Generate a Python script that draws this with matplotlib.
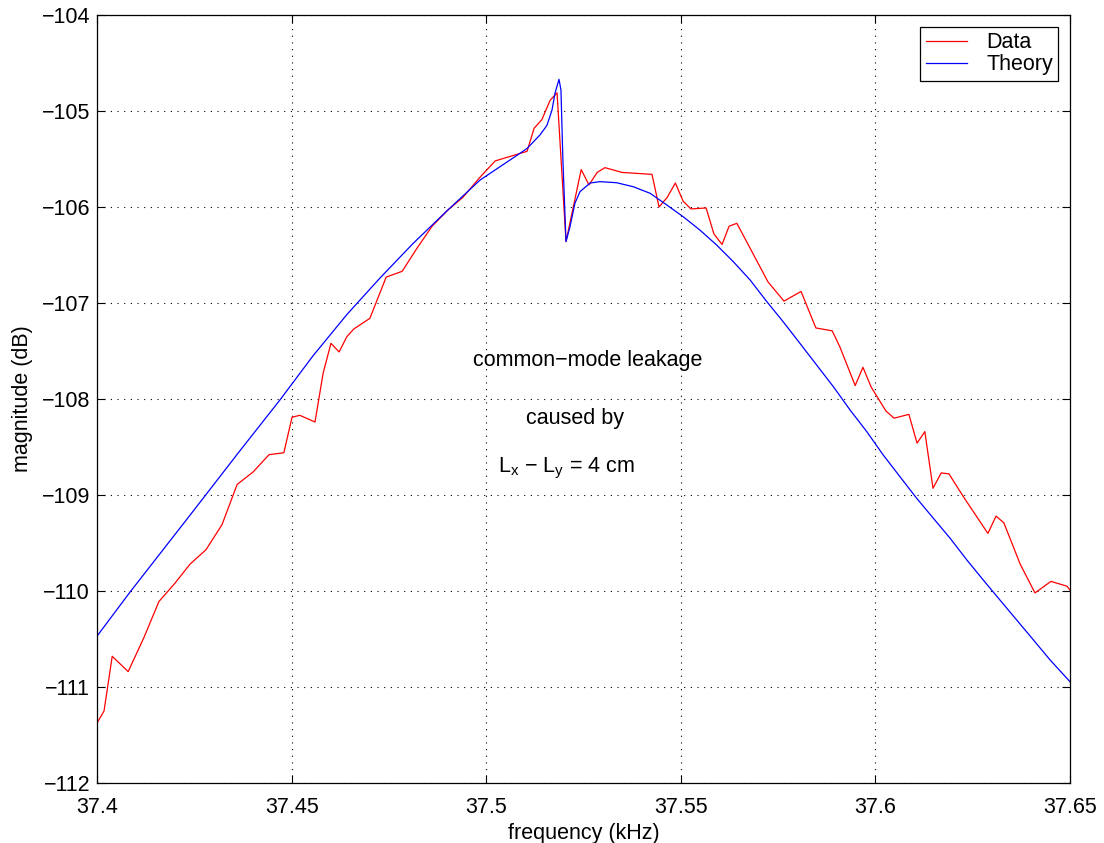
import matplotlib
matplotlib.use("Agg")
import matplotlib.pyplot as plt
from matplotlib.ticker import FixedLocator, FuncFormatter

plt.rcParams["font.family"] = ["Liberation Sans", "DejaVu Sans"]
plt.rcParams["mathtext.fontset"] = "custom"
plt.rcParams["mathtext.rm"] = "Liberation Sans"
plt.rcParams["mathtext.it"] = "Liberation Sans"

# measured response
data_f = [37.4, 37.4018, 37.4039, 37.4080, 37.4121, 37.4159, 37.4200, 37.4239,
          37.4280, 37.4321, 37.4360, 37.4401, 37.4442, 37.4480, 37.4501, 37.4521,
          37.4560, 37.4581, 37.4601, 37.4622, 37.4642, 37.4660, 37.4701, 37.4743,
          37.4784, 37.4822, 37.4861, 37.4902, 37.4940, 37.4984, 37.5023, 37.5105,
          37.5123, 37.5143, 37.5164, 37.5182, 37.5205, 37.5244, 37.5264, 37.5285,
          37.5305, 37.5349, 37.5426, 37.5444, 37.5465, 37.5486, 37.5506, 37.5526,
          37.5565, 37.5585, 37.5606, 37.5624, 37.5644, 37.5686, 37.5724, 37.5765,
          37.5809, 37.5847, 37.5889, 37.5909, 37.5948, 37.5968, 37.5989, 37.6027,
          37.6048, 37.6086, 37.6107, 37.6127, 37.6148, 37.6169, 37.6189, 37.6228,
          37.6289, 37.6310, 37.6330, 37.6372, 37.6410, 37.6451, 37.6492, 37.65]
data_db = [-111.375, -111.25, -110.68, -110.84, -110.48, -110.11, -109.92, -109.72,
           -109.57, -109.31, -108.89, -108.76, -108.58, -108.56, -108.19, -108.17,
           -108.24, -107.73, -107.42, -107.51, -107.35, -107.27, -107.16, -106.73,
           -106.67, -106.43, -106.20, -106.03, -105.90, -105.69, -105.52, -105.42,
           -105.18, -105.09, -104.89, -104.81, -106.36, -105.61, -105.77, -105.64,
           -105.59, -105.64, -105.66, -106.00, -105.90, -105.75, -105.94, -106.02,
           -106.01, -106.28, -106.39, -106.20, -106.17, -106.49, -106.78, -106.98,
           -106.88, -107.26, -107.29, -107.46, -107.86, -107.67, -107.875, -108.125,
           -108.20, -108.16, -108.46, -108.34, -108.93, -108.77, -108.78, -109.03,
           -109.40, -109.22, -109.29, -109.72, -110.02, -109.90, -109.95, -109.99]

# model curve
theory_f = [37.4, 37.4085, 37.4239, 37.4367, 37.4470, 37.4555, 37.4642, 37.4727,
            37.4812, 37.4899, 37.4984, 37.5087, 37.5105, 37.5138, 37.5156, 37.5169,
            37.5177, 37.5187, 37.5192, 37.5197, 37.5205, 37.5215, 37.5228, 37.5241,
            37.5267, 37.5292, 37.5335, 37.5378, 37.5421, 37.5464, 37.5506, 37.5549,
            37.5592, 37.5635, 37.5678, 37.5721, 37.5763, 37.5806, 37.5849, 37.5892,
            37.5935, 37.5978, 37.6020, 37.6063, 37.6106, 37.6149, 37.6192, 37.6235,
            37.6277, 37.6320, 37.6363, 37.6406, 37.6449, 37.65]
theory_db = [-110.47, -110.01, -109.21, -108.54, -108.01, -107.55, -107.12, -106.74,
             -106.38, -106.04, -105.72, -105.44, -105.39, -105.25, -105.15, -104.99,
             -104.81, -104.67, -104.78, -105.51, -106.36, -106.21, -105.96, -105.84,
             -105.75, -105.736, -105.747, -105.789, -105.857, -105.979, -106.101, -106.240,
             -106.396, -106.570, -106.760, -106.986, -107.195, -107.420, -107.646, -107.872,
             -108.115, -108.341, -108.583, -108.809, -109.034, -109.243, -109.451, -109.677,
             -109.885, -110.094, -110.302, -110.510, -110.719, -110.945]

xticks = [37.4, 37.45, 37.5, 37.55, 37.6, 37.65]
yticks = [-112, -111, -110, -109, -108, -107, -106, -105, -104]

fs = 15.5

fig = plt.figure(figsize=(11.04, 8.43), dpi=100)
ax = fig.add_axes([0.0879, 0.0712, 0.8813, 0.911])

ax.plot(data_f, data_db, color="red", lw=0.9, label="Data")
ax.plot(theory_f, theory_db, color="blue", lw=0.9, label="Theory")

ax.set_xlim(37.4, 37.65)
ax.set_ylim(-112, -104)
ax.xaxis.set_major_locator(FixedLocator(xticks))
ax.yaxis.set_major_locator(FixedLocator(yticks))
ax.xaxis.set_major_formatter(FuncFormatter(lambda v, p: "%g" % v))
ax.yaxis.set_major_formatter(FuncFormatter(lambda v, p: ("%g" % v).replace("-", "\u2212")))
ax.tick_params(direction="in", length=6, width=0.8, labelsize=fs, top=True, right=True)
ax.tick_params(axis="x", pad=10)
ax.tick_params(axis="y", pad=5)
ax.grid(True, color="black", linestyle=(0, (1, 5)), linewidth=0.8)
for s in ax.spines.values():
    s.set_linewidth(0.9)

ax.set_xlabel("frequency (kHz)", fontsize=fs, labelpad=4)
ax.set_ylabel("magnitude (dB)", fontsize=fs, labelpad=6)

ax.text(37.5261, -107.6, "common\u2212mode leakage", fontsize=fs, ha="center", va="center")
ax.text(37.5228, -108.2, "caused by", fontsize=fs, ha="center", va="center")
ax.text(37.5205, -108.72, "L$_{\\mathrm{x}}$ \u2212 L$_{\\mathrm{y}}$ = 4 cm",
        fontsize=fs, ha="center", va="center")

leg = ax.legend(loc="upper right", fontsize=fs, fancybox=False, framealpha=1,
                edgecolor="black", handlelength=1.9, borderpad=0.25,
                labelspacing=0.05, handletextpad=0.9, borderaxespad=0.55)
leg.get_frame().set_linewidth(0.9)

fig.savefig("out.png", dpi=100)
